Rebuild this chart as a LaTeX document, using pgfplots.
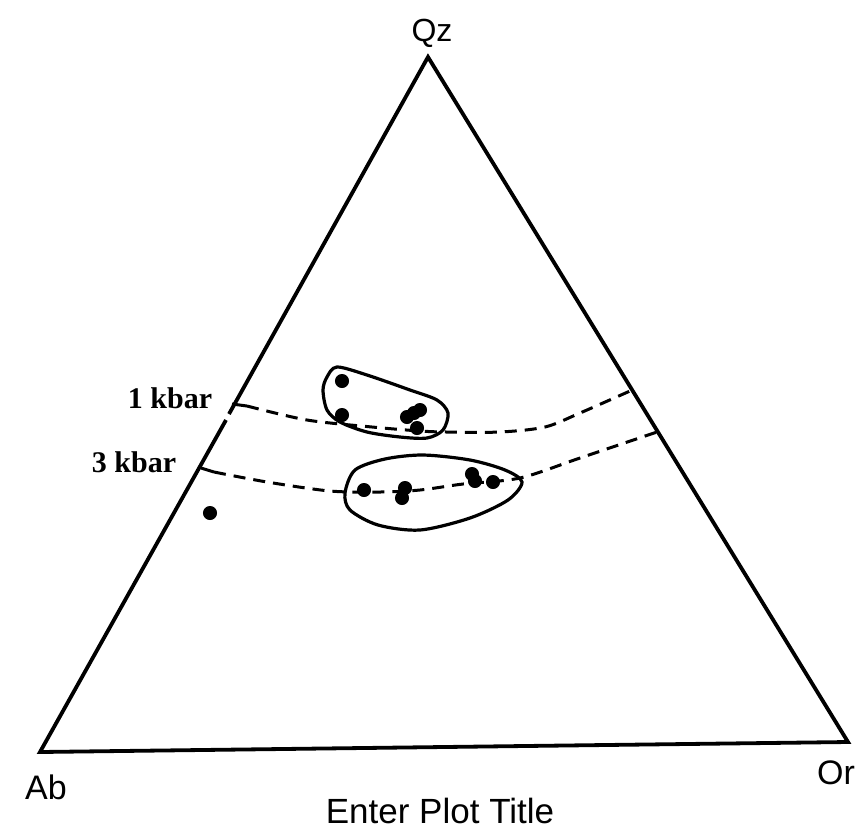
\documentclass[border=0pt]{standalone}
\usepackage{pgfplots}
\pgfplotsset{compat=1.18}
\usepackage{fontspec}
\setmainfont{Liberation Sans}
\newfontfamily\timesfont{Liberation Serif}
\begin{document}
\begin{tikzpicture}
\begin{axis}[
    scale only axis, width=434pt, height=416pt,
    xmin=0, xmax=868, ymin=0, ymax=832, y dir=reverse,
    enlargelimits=false, hide axis, clip=false,
]
\path (axis cs:0,0) rectangle (axis cs:868,832);

% triangle (left edge has a small break near 1 kbar)
\addplot[black, line width=1.9pt, line join=miter] coordinates {(229,414) (428,57) (848,742) (40,752) (226,420)};

% pressure curves
\addplot[black, line width=1.5pt] coordinates {(232,404) (247,406)};
\addplot[black, line width=1.5pt, dash pattern=on 6pt off 4pt, smooth] coordinates {
    (247,406) (307,420) (372,427) (420,431) (447,432) (500,432) (545,427) (580,413) (630,391)};
\addplot[black, line width=1.5pt] coordinates {(201,468) (214,472)};
\addplot[black, line width=1.5pt, dash pattern=on 6pt off 4pt, smooth] coordinates {
    (214,472) (267,482) (330,491) (380,492) (420,490) (463,484) (520,478) (580,458) (657,432)};

% fields
\addplot[black, line width=1.6pt, smooth cycle] coordinates {
    (337,367) (367,375) (410,390) (437,400) (448,413) (443,430) (427,438) (400,437)
    (367,432) (340,422) (327,410) (323,390) (327,377)};
\addplot[black, line width=1.6pt, smooth cycle] coordinates {
    (345,493) (355,470) (385,459) (423,455) (470,460) (505,470) (522,482) (508,500)
    (470,518) (420,530) (378,525) (350,510)};

% samples
\addplot[only marks, mark=*, mark size=3.3pt, black] coordinates {
    (342,381) (342,415) (407,417) (414,413) (420,410) (417,428)
    (364,490) (405,488) (402,498) (472,474) (475,481) (493,482)
    (210,513)};

\node[font=\fontsize{16}{19}\selectfont] at (axis cs:432,33) {Qz};
\node[font=\fontsize{17}{20}\selectfont] at (axis cs:46,787) {Ab};
\node[font=\fontsize{17}{20}\selectfont] at (axis cs:836,773) {Or};
\node[font=\fontsize{17.5}{20}\selectfont] at (axis cs:440,811) {Enter Plot Title};
\node[font=\fontsize{15}{18}\selectfont\timesfont\bfseries] at (axis cs:170,398) {1 kbar};
\node[font=\fontsize{15}{18}\selectfont\timesfont\bfseries] at (axis cs:134,462) {3 kbar};
\end{axis}
\end{tikzpicture}
\end{document}
